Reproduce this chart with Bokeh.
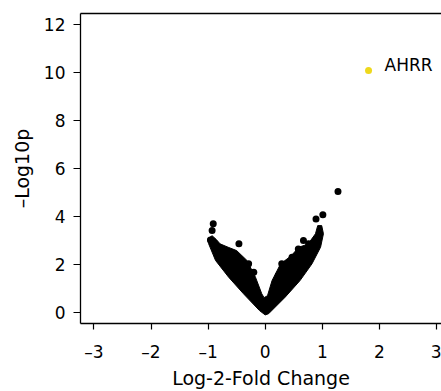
from bokeh.plotting import figure
from bokeh.models import Range1d, FixedTicker, LinearAxis
from bokeh.core.properties import value
from bokeh.embed import file_html
from bokeh.resources import INLINE

# Dense cloud of genes: outer outline of the V-shaped mass of points
cloud_x = [0.0, -0.1, -0.38, -0.64, -0.87, -0.99, -0.99, -0.93, -0.86, -0.79, -0.65, -0.5,
           -0.32, -0.17, -0.06, -0.02, 0.04, 0.12, 0.27, 0.45, 0.59, 0.75, 0.88, 0.92, 0.99,
           1.02, 0.97, 0.82, 0.61, 0.35, 0.06]
cloud_y = [-0.1, 0.08, 0.78, 1.47, 2.17, 2.86, 3.1, 3.2, 3.05, 2.86, 2.72, 2.58,
           2.17, 1.47, 0.78, 0.62, 0.7, 1.33, 2.03, 2.35, 2.72, 2.85, 3.28, 3.62, 3.62,
           3.28, 2.72, 2.03, 1.33, 0.64, -0.05]

# Individually visible genes at the edge of the cloud and outliers
solo_x = [-0.91, -0.93, -0.96, -0.46, -0.29, -0.2, 0.23, 0.29, 0.47, 0.58, 0.67, 0.76,
          0.89, 1.01, 1.275]
solo_y = [3.70, 3.42, 3.02, 2.86, 2.03, 1.68, 1.54, 2.03, 2.30, 2.65, 3.0, 2.86,
          3.9, 4.07, 5.04]

# Highlighted gene
hit_name = ["AHRR"]
hit_x = [1.81]
hit_y = [10.08]

x_ticks = [-3, -2, -1, 0, 1, 2, 3]
y_ticks = [0, 2, 4, 6, 8, 10, 12]

FONT = "DejaVu Sans"

p = figure(width=441, height=391, output_backend="svg", toolbar_location=None,
           x_range=Range1d(-3.235, 3.088), y_range=Range1d(-0.458, 12.458),
           min_border_left=80, min_border_right=0, min_border_top=13, min_border_bottom=68,
           background_fill_color="white", border_fill_color="white")
p.outline_line_color = None
p.xgrid.visible = False
p.ygrid.visible = False

p.patches(xs=[cloud_x], ys=[cloud_y], fill_color="black", fill_alpha=1.0,
          line_color="black", line_width=1)
p.scatter(solo_x, solo_y, size=7, fill_color="black", line_color=None)
p.scatter(hit_x, hit_y, size=7, fill_color="#EED81C", line_color=None)
p.text(x=hit_x, y=hit_y, text=hit_name, x_offset=16, y_offset=-6,
       text_font=value(FONT), text_font_size="17px", text_color="black",
       text_align="left", text_baseline="alphabetic")

minus = "\u2013"
for ax, ticks, title, tout in ((p.xaxis[0], x_ticks, "Log-2-Fold Change", 6),
                               (p.yaxis[0], y_ticks, minus + "Log10p", 7)):
    ax.ticker = FixedTicker(ticks=ticks)
    ax.major_label_overrides = {t: (minus + str(-t) if t < 0 else str(t)) for t in ticks}
    ax.minor_tick_line_color = None
    ax.major_tick_in = 0
    ax.major_tick_out = tout
    ax.major_tick_line_width = 1.2
    ax.axis_line_width = 1.3
    ax.axis_line_color = "black"
    ax.major_tick_line_color = "black"
    ax.major_label_text_font = FONT
    ax.major_label_text_font_size = "17px"
    ax.major_label_text_color = "black"
    ax.axis_label = title
    ax.axis_label_text_font = FONT
    ax.axis_label_text_font_size = "19px"
    ax.axis_label_text_font_style = "normal"
    ax.axis_label_text_color = "black"

p.xaxis[0].major_label_standoff = 12
p.xaxis[0].axis_label_standoff = 2
p.yaxis[0].major_label_standoff = 8
p.yaxis[0].axis_label_standoff = 8

top = LinearAxis(ticker=FixedTicker(ticks=[]), major_label_text_font_size="0px",
                 major_tick_out=0, major_tick_in=0, minor_tick_line_color=None,
                 axis_line_width=1.3, axis_line_color="black")
p.add_layout(top, "above")

open("out.html", "w").write(file_html(p, INLINE))
